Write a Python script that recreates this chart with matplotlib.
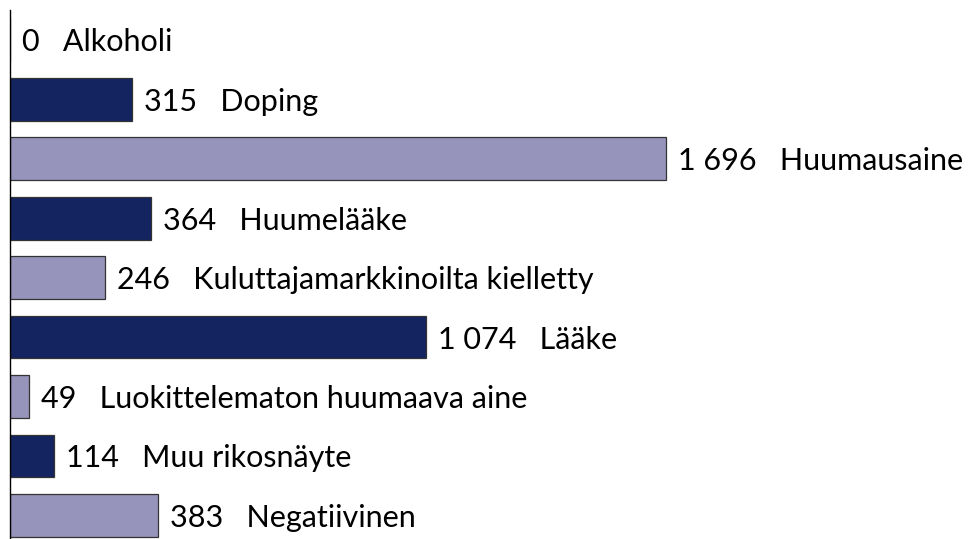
import matplotlib.pyplot as plt
import numpy as np

# data
categories = ["Alkoholi", "Doping", "Huumausaine", "Huumelääke",
              "Kuluttajamarkkinoilta kielletty", "Lääke",
              "Luokittelematon huumaava aine", "Muu rikosnäyte", "Negatiivinen"]
values = [0, 315, 1696, 364, 246, 1074, 49, 114, 383]

dark = "#142460"
light = "#9694bb"
colors = [light if i % 2 == 0 else dark for i in range(len(values))]

plt.rcParams['font.family'] = ['Lato', 'DejaVu Sans']

fig = plt.figure(figsize=(9.71, 5.39), dpi=100)
ax = fig.add_axes([10 / 971, 0, 961 / 971, 529 / 539])

y = np.arange(len(values))
ax.barh(y, values, height=0.72, color=colors, edgecolor="#333333", linewidth=0.9)

for yi, v, name in zip(y, values, categories):
    num = "{:,}".format(v).replace(",", " ")
    ax.annotate(num + "   " + name, xy=(v, yi), xytext=(12, 0),
                textcoords="offset pixels", va="center_baseline", ha="left",
                fontsize=22, color="black")

ax.set_xlim(0, 2483)
ax.set_ylim(8.396, -0.5)
for s in ["top", "right", "bottom"]:
    ax.spines[s].set_visible(False)
ax.spines["left"].set_linewidth(1.0)
ax.set_xticks([])
ax.set_yticks([])

fig.savefig("out.png", dpi=100)
